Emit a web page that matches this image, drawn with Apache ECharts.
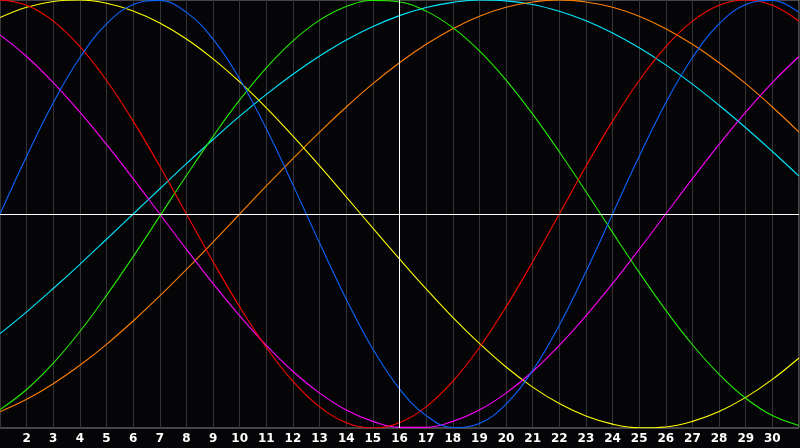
<!DOCTYPE html>
<html>
<head>
<meta charset="utf-8">
<style>
  html, body { margin: 0; padding: 0; background: #050508; }
  #main { width: 800px; height: 448px; }
</style>
<script src="https://cdn.jsdelivr.net/npm/echarts@6/dist/echarts.min.js"></script>
</head>
<body>
<div id="main"></div>
<script>
// days of the month shown
const days = [1, 2, 3, 4, 5, 6, 7, 8, 9, 10, 11, 12, 13, 14, 15, 16, 17, 18, 19, 20, 21, 22, 23, 24, 25, 26, 27, 28, 29, 30, 31];
const today = 16;

// cycle values, one per day
const physical = [0, 0.27, 0.52, 0.731, 0.888, 0.979, 0.998, 0.942, 0.817, 0.631, 0.398, 0.136, -0.136, -0.398, -0.631, -0.817, -0.942, -0.998, -0.979, -0.888, -0.731, -0.52, -0.27, 0, 0.27, 0.52, 0.731, 0.888, 0.979, 0.998, 0.942];
const emotional = [1, 0.975, 0.901, 0.782, 0.624, 0.434, 0.223, 0, -0.223, -0.434, -0.624, -0.782, -0.901, -0.975, -1, -0.975, -0.901, -0.782, -0.624, -0.434, -0.223, 0, 0.223, 0.434, 0.624, 0.782, 0.901, 0.975, 1, 0.975, 0.901];
const intellectual = [-0.914, -0.82, -0.697, -0.549, -0.38, -0.199, -0.01, 0.18, 0.363, 0.533, 0.683, 0.809, 0.906, 0.97, 0.998, 0.991, 0.948, 0.871, 0.762, 0.626, 0.467, 0.291, 0.105, -0.086, -0.273, -0.45, -0.611, -0.749, -0.861, -0.942, -0.988];
const intuitive = [0.837, 0.736, 0.614, 0.476, 0.325, 0.165, 0, -0.165, -0.325, -0.476, -0.614, -0.736, -0.837, -0.916, -0.969, -0.997, -0.997, -0.969, -0.916, -0.837, -0.736, -0.614, -0.476, -0.325, -0.165, 0, 0.165, 0.325, 0.476, 0.614, 0.736];
const aesthetic = [0.918, 0.966, 0.993, 1, 0.985, 0.949, 0.893, 0.818, 0.725, 0.617, 0.496, 0.364, 0.225, 0.08, -0.066, -0.21, -0.35, -0.483, -0.605, -0.715, -0.809, -0.886, -0.944, -0.982, -0.999, -0.995, -0.969, -0.923, -0.857, -0.773, -0.673];
const awareness = [-0.924, -0.866, -0.793, -0.707, -0.609, -0.5, -0.383, -0.259, -0.131, 0, 0.131, 0.259, 0.383, 0.5, 0.609, 0.707, 0.793, 0.866, 0.924, 0.966, 0.991, 1, 0.991, 0.966, 0.924, 0.866, 0.793, 0.707, 0.609, 0.5, 0.383];
const spiritual = [-0.559, -0.457, -0.348, -0.235, -0.118, 0, 0.118, 0.235, 0.348, 0.457, 0.559, 0.653, 0.738, 0.813, 0.876, 0.927, 0.965, 0.989, 1, 0.996, 0.979, 0.947, 0.903, 0.846, 0.777, 0.697, 0.607, 0.508, 0.403, 0.292, 0.177];

const cycles = [
  { name: "Spiritual", data: spiritual, color: "#00e8ff" },
  { name: "Awareness", data: awareness, color: "#ff8000" },
  { name: "Aesthetic", data: aesthetic, color: "#ffff00" },
  { name: "Intuitive", data: intuitive, color: "#ff00ff" },
  { name: "Intellectual", data: intellectual, color: "#22ee00" },
  { name: "Emotional", data: emotional, color: "#ff0000" },
  { name: "Physical", data: physical, color: "#0a64ff" },
];

const series = cycles.map((c) => ({
  name: c.name,
  type: "line",
  data: days.map((d, i) => [d, c.data[i]]),
  smooth: 0.4,
  showSymbol: false,
  silent: true,
  lineStyle: { color: c.color, width: 1.1 },
}));

// today / zero cross lines
series.push({
  type: "line",
  data: [],
  silent: true,
  markLine: {
    symbol: "none",
    silent: true,
    label: { show: false },
    lineStyle: { color: "#ffffff", width: 1, type: "solid" },
    data: [{ xAxis: today }, { yAxis: 0 }],
  },
});

const option = {
  animation: false,
  backgroundColor: "#050508",
  grid: {
    left: 0,
    right: 1,
    top: 0,
    bottom: 20,
    show: true,
    borderColor: "#8a8a8a",
    borderWidth: 1,
  },
  xAxis: {
    type: "value",
    min: 1,
    max: 31,
    interval: 1,
    axisLine: { show: false },
    axisTick: { show: false },
    splitLine: { show: true, lineStyle: { color: "#353535", width: 1 } },
    axisLabel: {
      color: "#ffffff",
      fontFamily: "DejaVu Sans",
      fontWeight: "bold",
      fontSize: 12,
      margin: 5,
      showMinLabel: false,
      showMaxLabel: false,
    },
  },
  yAxis: {
    type: "value",
    min: -1,
    max: 1,
    axisLine: { show: false },
    axisTick: { show: false },
    axisLabel: { show: false },
    splitLine: { show: false },
  },
  series: series,
};

var chartDom = document.getElementById("main");
var myChart = echarts.init(chartDom);
myChart.setOption(option);
</script>
</body>
</html>
